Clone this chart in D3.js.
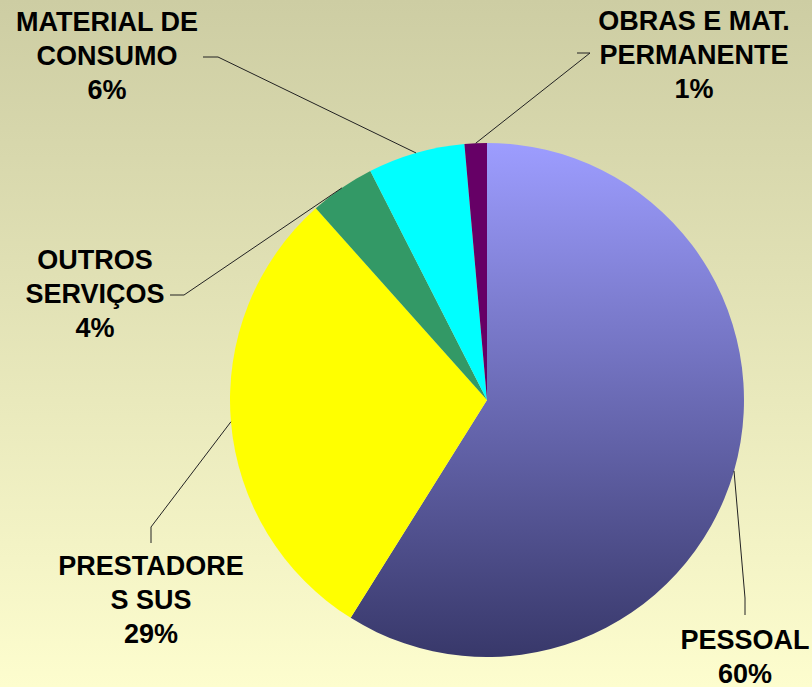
<!DOCTYPE html>
<meta charset="utf-8">
<style>
  body { margin: 0; }
  svg { display: block; }
  text { font-family: "Liberation Sans", Arial, sans-serif; font-weight: bold; font-size: 27px; fill: #000; }
</style>
<body>
  <div id="pie_chart"></div>
  <script src="https://d3js.org/d3.v7.min.js"></script>
  <script>
    // slices, clockwise from 12 o'clock
    var categories = ["PESSOAL", "PRESTADORES SUS", "OUTROS SERVIÇOS", "MATERIAL DE CONSUMO", "OBRAS E MAT. PERMANENTE"];
    var values = [58.9, 29.5, 4.1, 6.1, 1.4];
    var pctLabels = ["60%", "29%", "4%", "6%", "1%"];
    // how the label text is wrapped on the chart
    var labelLines = [
      ["PESSOAL"],
      ["PRESTADORE", "S SUS"],
      ["OUTROS", "SERVIÇOS"],
      ["MATERIAL DE", "CONSUMO"],
      ["OBRAS E MAT.", "PERMANENTE"]
    ];
    var colors = ["url(#blueGrad)", "#ffff00", "#339966", "#00ffff", "#660066"];

    var width = 812,
      height = 687,
      cx = 487,
      cy = 400,
      radius = 257;

    // label layout: elbow point, end of leader, text centre x and first baseline
    var labelLayout = [
      { elbow: [745, 598], end: [745, 615], tx: 745, ty: 649 },
      { elbow: [151, 527], end: [151, 543], tx: 151, ty: 575 },
      { elbow: [184, 295], end: [170, 295], tx: 95, ty: 269 },
      { elbow: [218, 57], end: [203, 57], tx: 107, ty: 31 },
      { elbow: [590, 53], end: [577, 53], tx: 694, ty: 30 }
    ];

    var data = categories.map(function(c, i) {
      return { name: c, value: values[i], pct: pctLabels[i], lines: labelLines[i], color: colors[i], layout: labelLayout[i] };
    });

    var svg = d3.select("#pie_chart")
      .append("svg")
      .attr("width", width)
      .attr("height", height);

    var defs = svg.append("defs");

    var bg = defs.append("linearGradient")
      .attr("id", "bgGrad")
      .attr("x1", 0).attr("y1", 0).attr("x2", 0).attr("y2", 1);
    bg.append("stop").attr("offset", "0%").attr("stop-color", "#cdcda3");
    bg.append("stop").attr("offset", "100%").attr("stop-color", "#fdfdce");

    var blue = defs.append("linearGradient")
      .attr("id", "blueGrad")
      .attr("gradientUnits", "userSpaceOnUse")
      .attr("x1", 0).attr("y1", -radius).attr("x2", 0).attr("y2", radius);
    blue.append("stop").attr("offset", "0%").attr("stop-color", "#9d9dff");
    blue.append("stop").attr("offset", "100%").attr("stop-color", "#38386a");

    svg.append("rect")
      .attr("width", width)
      .attr("height", height)
      .style("fill", "url(#bgGrad)");

    var pie = d3.pie()
      .sort(null)
      .value(function(d) { return d.value; });

    var arc = d3.arc()
      .innerRadius(0)
      .outerRadius(radius);

    var arcs = pie(data);

    var g = svg.append("g")
      .attr("transform", "translate(" + cx + "," + cy + ")");

    g.selectAll("path.slice")
      .data(arcs)
      .enter()
      .append("path")
      .attr("class", "slice")
      .attr("d", arc)
      .style("fill", function(d) { return d.data.color; });

    // leader lines from the middle of each slice's rim
    svg.selectAll("polyline.leader")
      .data(arcs)
      .enter()
      .append("polyline")
      .attr("class", "leader")
      .attr("points", function(d) {
        var a = (d.startAngle + d.endAngle) / 2;
        var p0 = [cx + radius * Math.sin(a), cy - radius * Math.cos(a)];
        return [p0, d.data.layout.elbow, d.data.layout.end].map(function(p) { return p.join(","); }).join(" ");
      })
      .style("fill", "none")
      .style("stroke", "#222")
      .style("stroke-width", 1);

    var labels = svg.selectAll("text.label")
      .data(arcs)
      .enter()
      .append("text")
      .attr("class", "label")
      .attr("text-anchor", "middle")
      .attr("x", function(d) { return d.data.layout.tx; })
      .attr("y", function(d) { return d.data.layout.ty; });

    labels.each(function(d) {
      var t = d3.select(this);
      d.data.lines.concat([d.data.pct]).forEach(function(line, i) {
        t.append("tspan")
          .attr("x", d.data.layout.tx)
          .attr("dy", i === 0 ? 0 : 34)
          .text(line);
      });
    });
  </script>
</body>
